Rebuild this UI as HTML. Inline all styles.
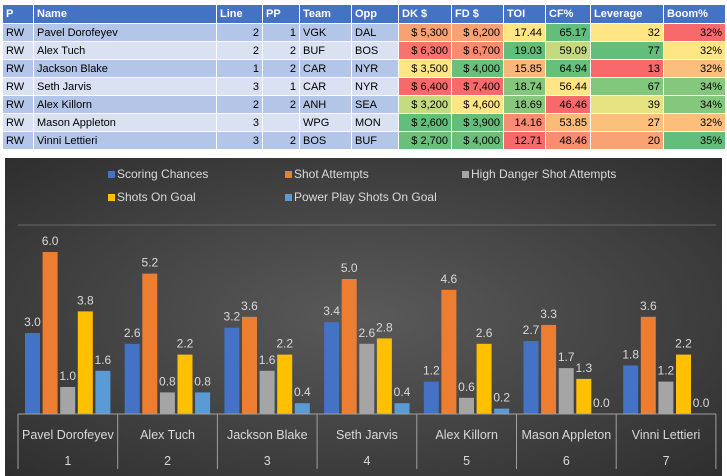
<!DOCTYPE html>
<html><head><meta charset="utf-8"><style>
body{margin:0;width:727px;height:476px;background:#fff;position:relative;overflow:hidden;font-family:"Liberation Sans",sans-serif}
table{position:absolute;left:2px;top:4px;border-collapse:collapse;font-size:11px}
td,th{height:18px;padding:0 3px;border:1px solid #fff;white-space:nowrap;box-sizing:border-box}
th{background:#4472C4;color:#fff;text-align:left;font-weight:bold;height:19px}
tr.o td{background:#B4C6E7}tr.e td{background:#D9E1F2}
td.r{text-align:right}
#chart{position:absolute;left:5px;top:158px;width:717px;height:318px;background:radial-gradient(ellipse at 50% 50%,#5a5a5a 0%,#404040 60%,#2e2e2e 100%)}
</style></head><body>
<table>
<colgroup><col style="width:31px"><col style="width:183px"><col style="width:46px"><col style="width:37px"><col style="width:52px"><col style="width:47px"><col style="width:53px"><col style="width:52px"><col style="width:42px"><col style="width:45px"><col style="width:73px"><col style="width:62px"></colgroup>
<tr><th>P</th><th>Name</th><th>Line</th><th>PP</th><th>Team</th><th>Opp</th><th>DK $</th><th>FD $</th><th>TOI</th><th>CF%</th><th>Leverage</th><th>Boom%</th></tr>
<tr class="o"><td>RW</td><td>Pavel Dorofeyev</td><td class="r">2</td><td class="r">1</td><td>VGK</td><td>DAL</td><td class="r" style="background:#F8A172">$ 5,300</td><td class="r" style="background:#F8A172">$ 6,200</td><td class="r" style="background:#FFE583">17.44</td><td class="r" style="background:#63BE7B">65.17</td><td class="r" style="background:#FFE583">32</td><td class="r" style="background:#F8696B">32%</td></tr>
<tr class="e"><td>RW</td><td>Alex Tuch</td><td class="r">2</td><td class="r">2</td><td>BUF</td><td>BOS</td><td class="r" style="background:#F8736D">$ 6,300</td><td class="r" style="background:#F98B70">$ 6,700</td><td class="r" style="background:#63BE7B">19.03</td><td class="r" style="background:#C4DA80">59.09</td><td class="r" style="background:#63BE7B">77</td><td class="r" style="background:#FFE583">32%</td></tr>
<tr class="o"><td>RW</td><td>Jackson Blake</td><td class="r">1</td><td class="r">2</td><td>CAR</td><td>NYR</td><td class="r" style="background:#FFE583">$ 3,500</td><td class="r" style="background:#6AC07B">$ 4,000</td><td class="r" style="background:#FBB679">15.85</td><td class="r" style="background:#66BF7B">64.94</td><td class="r" style="background:#F8696B">13</td><td class="r" style="background:#FBBE7B">32%</td></tr>
<tr class="e"><td>RW</td><td>Seth Jarvis</td><td class="r">3</td><td class="r">1</td><td>CAR</td><td>NYR</td><td class="r" style="background:#F8696B">$ 6,400</td><td class="r" style="background:#F8696B">$ 7,400</td><td class="r" style="background:#84C77C">18.74</td><td class="r" style="background:#FFE583">56.44</td><td class="r" style="background:#82C77C">67</td><td class="r" style="background:#85C87D">34%</td></tr>
<tr class="o"><td>RW</td><td>Alex Killorn</td><td class="r">2</td><td class="r">2</td><td>ANH</td><td>SEA</td><td class="r" style="background:#C5DB80">$ 3,200</td><td class="r" style="background:#FFE583">$ 4,600</td><td class="r" style="background:#88C87D">18.69</td><td class="r" style="background:#F8696B">46.46</td><td class="r" style="background:#E8E382">39</td><td class="r" style="background:#85C87D">34%</td></tr>
<tr class="e"><td>RW</td><td>Mason Appleton</td><td class="r">3</td><td class="r"></td><td>WPG</td><td>MON</td><td class="r" style="background:#63BE7B">$ 2,600</td><td class="r" style="background:#63BE7B">$ 3,900</td><td class="r" style="background:#F98C72">14.16</td><td class="r" style="background:#FBBA79">53.85</td><td class="r" style="background:#FBC07C">27</td><td class="r" style="background:#FBBE7B">32%</td></tr>
<tr class="o"><td>RW</td><td>Vinni Lettieri</td><td class="r">3</td><td class="r">2</td><td>BOS</td><td>BUF</td><td class="r" style="background:#6AC07B">$ 2,700</td><td class="r" style="background:#6AC07B">$ 4,000</td><td class="r" style="background:#F8696B">12.71</td><td class="r" style="background:#F98C71">48.46</td><td class="r" style="background:#F9A273">20</td><td class="r" style="background:#63BE7B">35%</td></tr>
</table>
<div id="chart">
<svg id="svg" width="717" height="318" style="position:absolute;left:0;top:0" font-family="Liberation Sans, sans-serif"></svg>
</div>
<script>
const categories=["Pavel Dorofeyev","Alex Tuch","Jackson Blake","Seth Jarvis","Alex Killorn","Mason Appleton","Vinni Lettieri"];
const seriesNames=["Scoring Chances","Shot Attempts","High Danger Shot Attempts","Shots On Goal","Power Play Shots On Goal"];
const scoringChances=[3.0,2.6,3.2,3.4,1.2,2.7,1.8];
const shotAttempts=[6.0,5.2,3.6,5.0,4.6,3.3,3.6];
const highDanger=[1.0,0.8,1.6,2.6,0.6,1.7,1.2];
const shotsOnGoal=[3.8,2.2,2.2,2.8,2.6,1.3,2.2];
const ppShots=[1.6,0.8,0.4,0.4,0.2,0.0,0.0];
const seriesColors=["#4472C4","#ED7D31","#A5A5A5","#FFC000","#5B9BD5"];
const series=[scoringChances,shotAttempts,highDanger,shotsOnGoal,ppShots];
const NS="http://www.w3.org/2000/svg";
const svg=document.getElementById('svg');
const X0=13,CW=99.7,BASE=256,TOP=67,YMAX=7;
const y=v=>BASE-(v/YMAX)*(BASE-TOP);
const xBar=(c,s)=>X0+c*CW+7+s*17.6;
function mk(t,a){const e=document.createElementNS(NS,t);for(const k in a)e.setAttribute(k,a[k]);svg.appendChild(e);return e;}
let g=mk('line',{x1:X0,x2:X0+7*CW,y1:y(YMAX),y2:y(YMAX),stroke:'#6a6a6a','stroke-width':1});


// legend
const legPos=[[103,20],[280,20],[457,20],[103,43],[280,43]];
seriesNames.forEach((n,i)=>{
 const r=mk('rect',{x:legPos[i][0],y:legPos[i][1]-7,width:7,height:7,fill:seriesColors[i]});
 
 
 const t=mk('text',{x:legPos[i][0]+9,y:legPos[i][1],fill:'#d9d9d9','font-size':12});
 t.textContent=n;
 
 
});
series.forEach((vals,s)=>{
 vals.forEach((v,c)=>{
  const x=xBar(c,s);
  const r=mk('rect',{x:x,y:y(v),width:15,height:BASE-y(v),fill:seriesColors[s]});
  
  
  const t=mk('text',{x:x+7.5,y:y(v)-7,fill:'#d9d9d9','font-size':12,'text-anchor':'middle'});
  t.textContent=v.toFixed(1);
  
  
 });
});
const ax=mk('line',{x1:X0,x2:X0+7*CW,y1:BASE,y2:BASE,stroke:'#a0a0a0','stroke-width':1});


for(let c=0;c<=7;c++){
 const d=mk('line',{x1:X0+c*CW,x2:X0+c*CW,y1:BASE,y2:311,stroke:'#a0a0a0','stroke-width':1});
 
 
}
categories.forEach((n,c)=>{
 const t=mk('text',{x:X0+c*CW+CW/2,y:281,fill:'#d9d9d9','font-size':12.5,'text-anchor':'middle'});
 t.textContent=n;
 
 
 const t2=mk('text',{x:X0+c*CW+CW/2,y:307,fill:'#d9d9d9','font-size':12.5,'text-anchor':'middle'});
 t2.textContent=String(c+1);
 
 
});
</script>
</body></html>
